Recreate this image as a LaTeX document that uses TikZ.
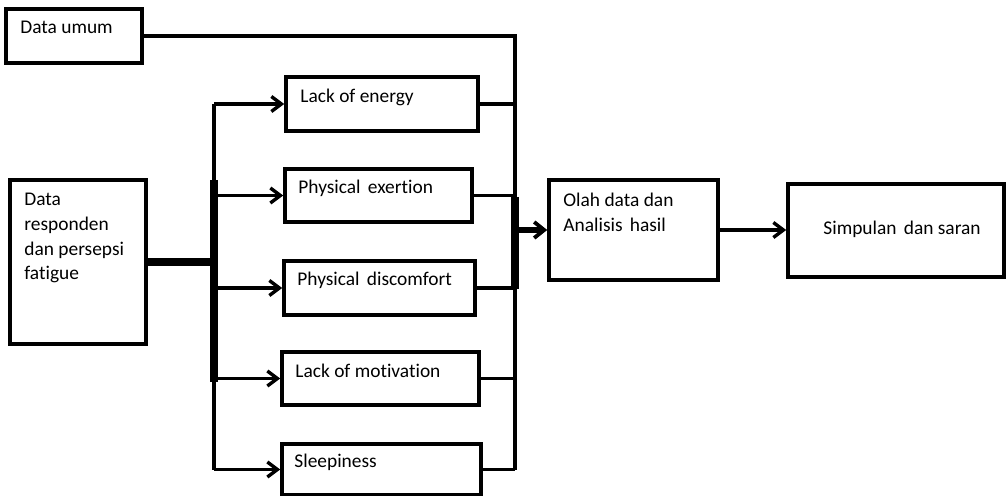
\documentclass[tikz,border=0pt]{standalone}
\usepackage{fontspec}
\setmainfont{Carlito}[Ligatures=NoCommon]
\usetikzlibrary{arrows.meta,fit}
\begin{document}
\begin{tikzpicture}[x=0.5pt,y=-0.5pt,
  box/.style={draw=black,line width=1.8pt,inner sep=0pt,fill=none},
  txt/.style={inner sep=0pt,font=\fontsize{9.7}{12.3}\selectfont,align=left},
  conn/.style={draw=black,line width=1.7pt},
  bus/.style={draw=black,line width=3.6pt},
  arr/.style={conn,-{Straight Barb[length=5pt,width=7.5pt,line width=1.7pt]}},
  bigarr/.style={draw=black,line width=3.4pt,-{Straight Barb[length=5pt,width=8pt,line width=1.9pt]}}]
\useasboundingbox (0,0) rectangle (1007,496);
% boxes
\node[box,fit={(6,9) (142,63)}] (du) {};
\node[box,fit={(10,180) (146,344)}] (dr) {};
\node[box,fit={(286,77) (478,131)}] (le) {};
\node[box,fit={(285,169) (472,222)}] (pe) {};
\node[box,fit={(284,261) (475,315)}] (pd) {};
\node[box,fit={(282,352) (479,405)}] (lm) {};
\node[box,fit={(282,444) (481,495)}] (sl) {};
\node[box,fit={(549,180) (718,280)}] (ol) {};
\node[box,fit={(788,184) (1004,277)}] (si) {};
% texts
\node[txt,anchor=base west] (tdu) at (20,34) {Data umum};
\node[txt,anchor=north west] (tdr) at (24,193) {Data\\responden\\dan persepsi\\fatigue};
\node[txt,anchor=base west] (tle) at (300,103) {Lack of energy};
\node[txt,anchor=base west] (tpe) at (298,194) {Physical\hspace{0.15em} exertion};
\node[txt,anchor=base west] (tpd) at (297,286) {Physical\hspace{0.15em} discomfort};
\node[txt,anchor=base west] (tlm) at (295,378) {Lack of motivation};
\node[txt,anchor=base west] (tsl) at (294,468) {Sleepiness};
\node[txt,anchor=north west] (tol) at (563,193) {Olah data dan\\Analisis\hspace{0.15em} hasil};
\node[txt,anchor=base west] (tsi) at (823,235) {Simpulan\hspace{0.15em} dan saran};
% bus coordinates
\coordinate (lt) at (214,104);
\coordinate (lb) at (214,470);
\coordinate (lk1) at (214,180);
\coordinate (lk2) at (214,382);
\coordinate (rb) at (515,470);
\coordinate (rk1) at (515,197);
\coordinate (rk2) at (515,289);
% left bus
\draw[conn] (lt) -- (lb);
\draw[bus] (lk1) -- (lk2);
\draw[bus] (dr.east) -- (dr.east -| lt);
\draw[arr] (le.west -| lt) -- (le.west);
\draw[arr] (pe.west -| lt) -- (pe.west);
\draw[arr] (pd.west -| lt) -- (pd.west);
\draw[arr] (lm.west -| lt) -- (lm.west);
\draw[arr] (sl.west -| lt) -- (sl.west);
% right bus
\draw[conn] (du.east) -| (rb);
\draw[bus] (rk1) -- (rk2);
\draw[conn] (le.east) -- (le.east -| rb);
\draw[conn] (pe.east) -- (pe.east -| rb);
\draw[conn] (pd.east) -- (pd.east -| rb);
\draw[conn] (lm.east) -- (lm.east -| rb);
\draw[conn] (sl.east) -- (sl.east -| rb);
\draw[bigarr] (ol.west -| rb) -- (ol.west);
\draw[arr] (ol.east) -- (si.west |- ol.east);
\end{tikzpicture}
\end{document}
